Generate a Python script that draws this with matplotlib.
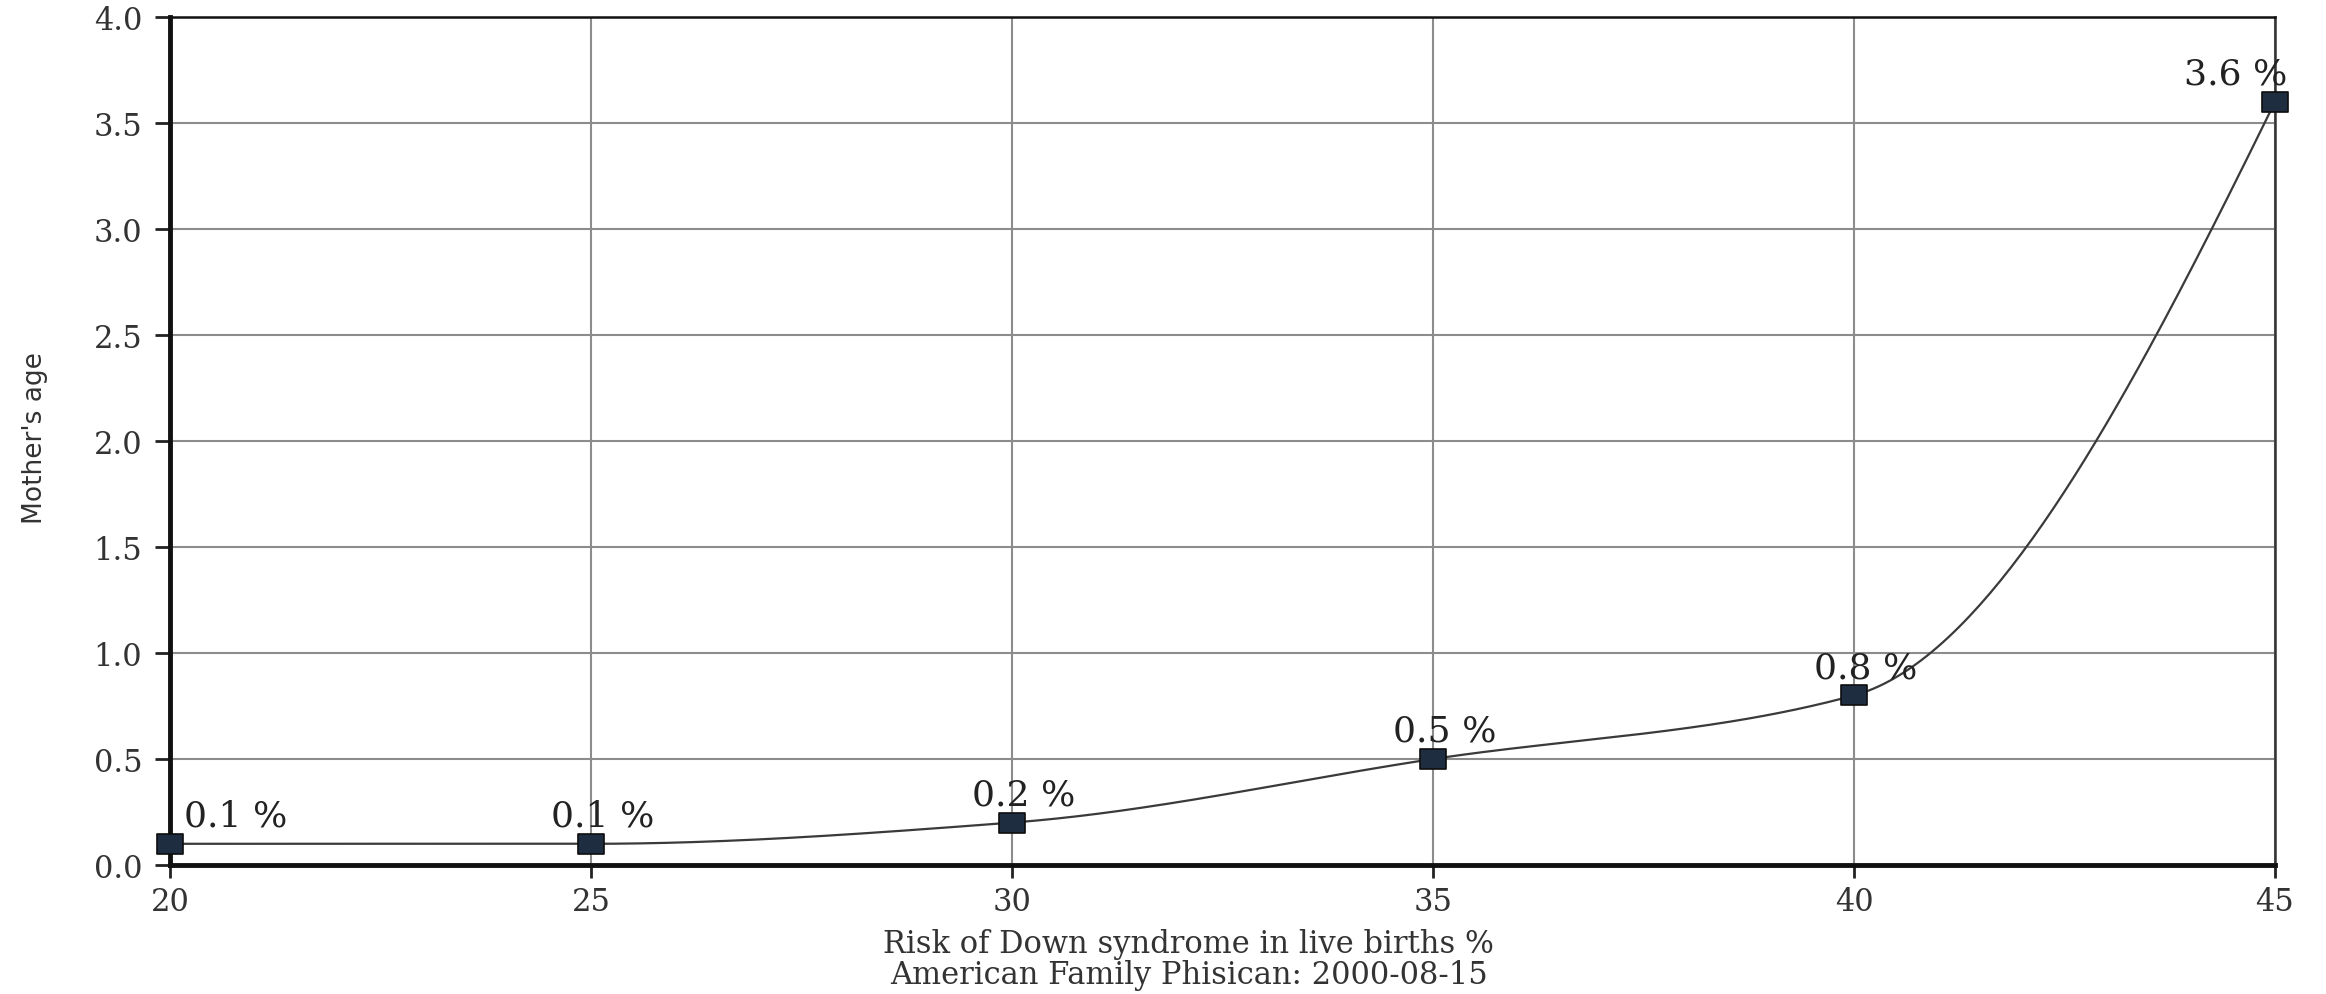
import numpy as np
import matplotlib
matplotlib.use("Agg")
import matplotlib.pyplot as plt
from matplotlib.path import Path
from matplotlib.ticker import FormatStrFormatter

# ---- data ----
ages = [20, 25, 30, 35, 40, 45]
risk = [0.1, 0.1, 0.2, 0.5, 0.8, 3.6]
point_labels = [f"{v:.1f} %" for v in risk]
x_ticks = [20, 25, 30, 35, 40, 45]
y_ticks = [0.0, 0.5, 1.0, 1.5, 2.0, 2.5, 3.0, 3.5, 4.0]
x_label = "Risk of Down syndrome in live births %\nAmerican Family Phisican: 2000-08-15"
y_label = "Mother's age"


def pchip_curve(x, y, n=400):
    """Monotone cubic (Fritsch-Carlson) smooth line through the points."""
    x = np.asarray(x, float)
    y = np.asarray(y, float)
    h = np.diff(x)
    d = np.diff(y) / h
    m = np.zeros_like(y)
    for k in range(1, len(x) - 1):
        if d[k - 1] * d[k] <= 0:
            m[k] = 0.0
        else:
            w1 = 2 * h[k] + h[k - 1]
            w2 = h[k] + 2 * h[k - 1]
            m[k] = (w1 + w2) / (w1 / d[k - 1] + w2 / d[k])

    def end(h0, h1, d0, d1):
        s = ((2 * h0 + h1) * d0 - h0 * d1) / (h0 + h1)
        if np.sign(s) != np.sign(d0):
            s = 0.0
        elif np.sign(d0) != np.sign(d1) and abs(s) > abs(3 * d0):
            s = 3 * d0
        return s

    m[0] = end(h[0], h[1], d[0], d[1])
    m[-1] = end(h[-1], h[-2], d[-1], d[-2])
    xs = np.linspace(x[0], x[-1], n)
    idx = np.clip(np.searchsorted(x, xs) - 1, 0, len(x) - 2)
    t = (xs - x[idx]) / h[idx]
    h00 = 2 * t**3 - 3 * t**2 + 1
    h10 = t**3 - 2 * t**2 + t
    h01 = -2 * t**3 + 3 * t**2
    h11 = t**3 - t**2
    ys = h00 * y[idx] + h10 * h[idx] * m[idx] + h01 * y[idx + 1] + h11 * h[idx] * m[idx + 1]
    return xs, ys


W, H = 2326, 995
fig = plt.figure(figsize=(W / 100, H / 100), dpi=100)
ax = fig.add_axes([170 / W, 129 / H, 2105 / W, 848 / H])

ax.set_xlim(20, 45)
ax.set_ylim(0, 4)
ax.set_xticks(x_ticks)
ax.set_yticks(y_ticks)
ax.yaxis.set_major_formatter(FormatStrFormatter("%.1f"))

ax.grid(True, color="#8c8c8c", linewidth=1.5)
ax.set_axisbelow(True)

for side in ("left", "bottom"):
    ax.spines[side].set_linewidth(3.5)
    ax.spines[side].set_color("#111111")
ax.spines["top"].set_linewidth(1.8)
ax.spines["top"].set_color("#111111")
ax.spines["right"].set_linewidth(1.8)
ax.spines["right"].set_color("#333333")

for lab in ax.get_xticklabels() + ax.get_yticklabels():
    lab.set_fontfamily("DejaVu Serif")
    lab.set_fontsize(22)
    lab.set_color("#333333")
ax.tick_params(axis="y", length=11, width=2, color="#222222", pad=9)
ax.tick_params(axis="x", length=9, width=2, color="#222222", pad=6)

# smooth line
cx, cy = pchip_curve(ages, risk)
ax.plot(cx, cy, color="#3a3a3a", linewidth=1.6, zorder=3)

# markers (slightly wide squares)
box = Path([(-1.35, -1), (1.35, -1), (1.35, 1), (-1.35, 1), (-1.35, -1)],
           [Path.MOVETO, Path.LINETO, Path.LINETO, Path.LINETO, Path.CLOSEPOLY])
ax.plot(ages, risk, linestyle="none", marker=box, markersize=19,
        markerfacecolor="#1f2d40", markeredgecolor="#0d0d0d", markeredgewidth=1.2,
        zorder=4, clip_on=False)

# point labels
n = len(ages)
for i, (xv, yv, lab) in enumerate(zip(ages, risk, point_labels)):
    if i == 0:
        ha, dx = "left", 14
    elif i == n - 1:
        ha, dx = "right", 12
    else:
        ha, dx = "center", 12
    ax.annotate(lab, (xv, yv), xytext=(dx, 18), textcoords="offset pixels",
                ha=ha, va="baseline", fontsize=26, family="DejaVu Serif",
                color="#222222", zorder=5, annotation_clip=False)

ax.set_xlabel(x_label, fontsize=22, family="DejaVu Serif", color="#333333",
              linespacing=1.0)
ax.xaxis.set_label_coords(0.484, -0.074)
ax.set_ylabel(y_label, fontsize=19, family="DejaVu Sans", color="#333333")
ax.yaxis.set_label_coords(-0.058, 0.505)

fig.savefig("out.png", dpi=100)
